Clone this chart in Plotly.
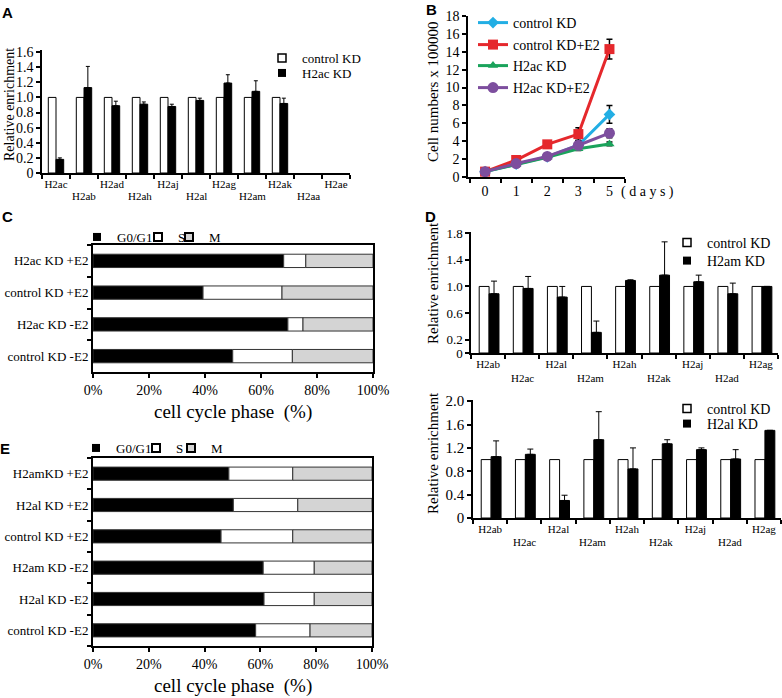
import numpy as np
import plotly.graph_objects as go

W, H = 782, 698
SERIF = "Times New Roman, Liberation Serif, Times, serif"
SANS = "Arial, Liberation Sans, sans-serif"

# ---------------- data ----------------
# Panel A
catsA = ["H2ac", "H2ab", "H2ad", "H2ah", "H2aj", "H2al", "H2ag", "H2am", "H2ak", "H2aa", "H2ae"]
ctrlA = [1.0, 1.0, 1.0, 1.0, 1.0, 1.0, 1.0, 1.0, 1.0, None, None]
kdA = [0.18, 1.13, 0.89, 0.91, 0.88, 0.96, 1.19, 1.08, 0.92, None, None]
errA = [0.02, 0.28, 0.06, 0.03, 0.03, 0.03, 0.11, 0.14, 0.07, None, None]
yticksA = [0, 0.2, 0.4, 0.6, 0.8, 1.0, 1.2, 1.4, 1.6]

# Panel B
daysB = ["0", "1", "2", "3", "5"]
ctrlB = [0.6, 1.45, 2.25, 3.55, 7.0]
ctrlE2B = [0.6, 1.9, 3.65, 4.8, 14.3]
kdB = [0.6, 1.4, 2.2, 3.15, 3.7]
kdE2B = [0.6, 1.5, 2.3, 3.55, 4.9]
errCtrlB = [None, None, None, 0.5, 1.0]
errCtrlE2B = [None, None, 0.3, 0.7, 1.1]
errKdB = [None, None, None, 0.2, 0.2]
errKdE2B = [None, None, None, None, 0.5]

# Panel C (top to bottom)
catsC = ["H2ac KD +E2", "control KD +E2", "H2ac KD -E2", "control KD -E2"]
g0C = [68.1, 39.3, 69.6, 49.9]
sC = [7.9, 28.2, 5.4, 21.3]
mC = [24.0, 32.5, 25.0, 28.8]
pctTicks = [0, 20, 40, 60, 80, 100]

# Panel D
catsD = ["H2ab", "H2ac", "H2al", "H2am", "H2ah", "H2ak", "H2aj", "H2ad", "H2ag"]
ctrlD = [1.0] * 9
kdD1 = [0.89, 0.97, 0.84, 0.31, 1.09, 1.17, 1.07, 0.89, 1.00]
errD1 = [0.19, 0.18, 0.16, 0.17, 0.01, 0.50, 0.10, 0.16, None]
kdD2 = [1.05, 1.09, 0.30, 1.34, 0.84, 1.27, 1.17, 1.01, 1.50]
errD2 = [0.27, 0.09, 0.09, 0.48, 0.36, 0.07, 0.03, 0.16, None]
yticksD1 = [0, 0.2, 0.6, 1.0, 1.4, 1.8]
yticksD2 = [0, 0.4, 0.8, 1.2, 1.6, 2.0]

# Panel E (top to bottom)
catsE = ["H2amKD +E2", "H2al KD +E2", "control KD +E2", "H2am KD -E2", "H2al KD -E2", "control KD -E2"]
g0E = [48.7, 50.3, 45.9, 61.0, 61.3, 58.3]
sE = [22.9, 23.1, 25.7, 18.3, 18.0, 19.5]
mE = [28.4, 26.6, 28.4, 20.7, 20.7, 22.2]

# ---------------- helpers ----------------
def px_x(p):
    return p / W

def px_y(p):
    return 1 - p / H

def row1(labels):
    return [l if i % 2 == 0 else "" for i, l in enumerate(labels)]

def fmt(v):
    return "0" if v == 0 else f"{v:.1f}"

fig = go.Figure()
legends = {}
leg_count = [0]
ann = []

def new_legend(x_text, y_center, size):
    leg_count[0] += 1
    key = "legend" if leg_count[0] == 1 else "legend%d" % leg_count[0]
    legends[key] = dict(x=px_x(x_text - 41), y=px_y(y_center), xanchor="left", yanchor="middle",
                        bgcolor="rgba(0,0,0,0)", borderwidth=0, font=dict(size=size, family=SERIF),
                        itemwidth=30)
    return key

def legend_square(xa, ya, name, fill, line_w, x_text, y_center, size):
    key = new_legend(x_text, y_center, size)
    fig.add_trace(go.Scatter(x=[None], y=[None], xaxis=xa, yaxis=ya, mode="markers", name=name,
                             marker=dict(symbol="square", size=8, color=fill,
                                         line=dict(color="black", width=line_w)), legend=key))

def row2_labels(cats, xref, y_px, size=11):
    for i, c in enumerate(cats):
        if i % 2 == 1:
            ann.append(dict(x=c, xref=xref, y=px_y(y_px), yref="paper", text=c, showarrow=False,
                            xanchor="center", yanchor="middle",
                            font=dict(size=size, family=SERIF, color="black")))

# ---------------- Panel A ----------------
bw = 0.275
fig.add_trace(go.Bar(x=catsA, y=ctrlA, xaxis="x", yaxis="y", width=bw, offset=-bw,
                     marker=dict(color="white", line=dict(color="black", width=1)), showlegend=False))
fig.add_trace(go.Bar(x=catsA, y=kdA, xaxis="x", yaxis="y", width=bw, offset=0,
                     marker=dict(color="black", line=dict(color="black", width=1)), showlegend=False,
                     error_y=dict(type="data", symmetric=False, array=errA, arrayminus=[0] * len(errA),
                                  color="black", thickness=1, width=2)))
legend_square("x", "y", "control KD", "white", 1.5, 303, 58, 13)
legend_square("x", "y", "H2ac KD", "black", 0, 303, 73, 13)
row2_labels(catsA, "x", 196)

# ---------------- Panel B ----------------
colsB = ["#22AEE4", "#E5282C", "#1AA35B", "#7D4E9E"]
namesB = ["control KD", "control KD+E2", "H2ac KD", "H2ac KD+E2"]
valsB = [ctrlB, ctrlE2B, kdB, kdE2B]
errsB = [errCtrlB, errCtrlE2B, errKdB, errKdE2B]
symB = ["diamond", "square", "triangle-up", "circle"]
sizeB = [9, 10, 9, 11]
rowsB = [23, 45, 66, 88]
for nm, v, e, c, s, sz, ry in zip(namesB, valsB, errsB, colsB, symB, sizeB, rowsB):
    key = new_legend(514, ry, 14)
    fig.add_trace(go.Scatter(x=daysB, y=v, xaxis="x2", yaxis="y2", mode="lines+markers", name=nm,
                             line=dict(color=c, width=3), marker=dict(symbol=s, size=sz, color=c),
                             error_y=dict(type="data", array=e, color="black", thickness=1.5, width=3),
                             legend=key))

# ---------------- Panel C / E (stacked horizontal) ----------------
def stacked(cats, g0, s, m, xa, ya, ytxt, xtxts):
    g0 = np.array(g0); s = np.array(s); m = np.array(m)
    specs = [(g0, np.zeros_like(g0), "black"),
             (s, g0, "white"),
             (m, g0 + s, "#D4D4D4")]
    for vals, base, col in specs:
        fig.add_trace(go.Bar(y=cats, x=vals, base=base, orientation="h", xaxis=xa, yaxis=ya,
                             width=0.42, offset=-0.21,
                             marker=dict(color=col, line=dict(color="#333333", width=1)), showlegend=False))
    for (col, nm, lw), xt in zip([("black", "G0/G1", 0), ("white", "S", 2), ("#D4D4D4", "M", 2)], xtxts):
        legend_square(xa, ya, nm, col, lw, xt, ytxt, 13)

stacked(catsC, g0C, sC, mC, "x3", "y3", 237, [118, 179, 210])
stacked(catsE, g0E, sE, mE, "x6", "y6", 448, [117, 177, 212])

# ---------------- Panel D ----------------
for kd, err, xa, ya, nm, rows, r2 in [(kdD1, errD1, "x4", "y4", "H2am KD", [243, 261], 378),
                                      (kdD2, errD2, "x5", "y5", "H2al KD", [409, 424], 542)]:
    bwd = 0.29
    fig.add_trace(go.Bar(x=catsD, y=ctrlD, xaxis=xa, yaxis=ya, width=bwd, offset=-bwd + 0.03,
                         marker=dict(color="white", line=dict(color="black", width=1)), showlegend=False))
    fig.add_trace(go.Bar(x=catsD, y=kd, xaxis=xa, yaxis=ya, width=bwd, offset=0.03,
                         marker=dict(color="black", line=dict(color="black", width=1)), showlegend=False,
                         error_y=dict(type="data", symmetric=False, array=err, arrayminus=[0] * len(err),
                                      color="black", thickness=1, width=3)))
    legend_square(xa, ya, "control KD", "white", 1.5, 708, rows[0], 14)
    legend_square(xa, ya, nm, "black", 0, 708, rows[1], 14)
    row2_labels(catsD, xa, r2)

# ---------------- axes ----------------
axbase = dict(showgrid=False, zeroline=False, showline=True, linecolor="black", linewidth=1.5,
              ticks="outside", tickcolor="black", ticklen=4, tickwidth=1.5)
pctText = ["%d%%" % v for v in pctTicks]

layout = dict(
    width=W, height=H, margin=dict(l=0, r=0, t=0, b=0, pad=0, autoexpand=False),
    paper_bgcolor="white", plot_bgcolor="white",
    font=dict(family=SERIF, color="black", size=13),
    barmode="group",
    # A
    xaxis=dict(axbase, domain=[px_x(42), px_x(350)], anchor="y", type="category",
               categoryorder="array", categoryarray=catsA, range=[-0.5, len(catsA) - 0.5],
               tickson="boundaries", tickmode="array", tickvals=catsA, ticktext=row1(catsA),
               tickangle=0, tickfont=dict(size=11)),
    yaxis=dict(axbase, domain=[px_y(173), px_y(50)], anchor="x", range=[0, 1.6 * 1.017],
               tickvals=yticksA, ticktext=[fmt(v) for v in yticksA], tickfont=dict(size=14)),
    # B
    xaxis2=dict(axbase, domain=[px_x(468), px_x(625)], anchor="y2", type="category",
                range=[-0.55, 4.5], tickson="boundaries", tickangle=0, tickfont=dict(size=14)),
    yaxis2=dict(axbase, domain=[px_y(177), px_y(16)], anchor="x2", range=[0, 18],
                tickvals=list(range(0, 19, 2)), tickfont=dict(size=14)),
    # C
    xaxis3=dict(axbase, domain=[px_x(93), px_x(373)], anchor="y3", range=[0, 100], linewidth=2,
                mirror=True, tickmode="array", tickvals=pctTicks, ticktext=pctText, tickfont=dict(size=14)),
    yaxis3=dict(axbase, domain=[px_y(372), px_y(245)], anchor="x3", type="category", linewidth=2,
                mirror=True, categoryorder="array", categoryarray=catsC[::-1],
                range=[-0.5, len(catsC) - 0.5], tickson="boundaries", tickfont=dict(size=13)),
    # D top
    xaxis4=dict(axbase, domain=[px_x(471), px_x(778)], anchor="y4", type="category",
                categoryorder="array", categoryarray=catsD, range=[-0.5, len(catsD) - 0.5],
                tickson="boundaries", tickmode="array", tickvals=catsD, ticktext=row1(catsD),
                tickangle=0, tickfont=dict(size=11)),
    yaxis4=dict(axbase, domain=[px_y(353), px_y(232)], anchor="x4", range=[0, 1.8 * 1.01],
                tickvals=yticksD1, ticktext=[fmt(v) for v in yticksD1], tickfont=dict(size=13)),
    # D bottom
    xaxis5=dict(axbase, domain=[px_x(473), px_x(781)], anchor="y5", type="category",
                categoryorder="array", categoryarray=catsD, range=[-0.5, len(catsD) - 0.5],
                tickson="boundaries", tickmode="array", tickvals=catsD, ticktext=row1(catsD),
                tickangle=0, tickfont=dict(size=11)),
    yaxis5=dict(axbase, domain=[px_y(518), px_y(400)], anchor="x5", range=[0, 2.0 * 1.01],
                tickvals=yticksD2, ticktext=[fmt(v) for v in yticksD2], tickfont=dict(size=15)),
    # E
    xaxis6=dict(axbase, domain=[px_x(93), px_x(372)], anchor="y6", range=[0, 100], linewidth=2,
                mirror=True, tickmode="array", tickvals=pctTicks, ticktext=pctText, tickfont=dict(size=14)),
    yaxis6=dict(axbase, domain=[px_y(646), px_y(458)], anchor="x6", type="category", linewidth=2,
                mirror=True, categoryorder="array", categoryarray=catsE[::-1],
                range=[-0.5, len(catsE) - 0.5], tickson="boundaries", tickfont=dict(size=13)),
)
layout.update(legends)
fig.update_layout(**layout)

# ---------------- text annotations ----------------
def txt(x, y, t, size=14, angle=0, bold=False, family=SERIF):
    ann.append(dict(x=px_x(x), y=px_y(y), xref="paper", yref="paper", text=("<b>%s</b>" % t) if bold else t,
                    showarrow=False, textangle=angle, xanchor="center", yanchor="middle",
                    font=dict(size=size, family=family, color="black")))

txt(9, 105, "Relative enrichment", 14, -90)
txt(433, 92, "Cell numbers x 100000", 15, -90)
txt(433, 283, "Relative enrichment", 15, -90)
txt(433, 453, "Relative enrichment", 15, -90)
txt(647, 192, "( d a y s )", 14)
txt(233, 412, "cell cycle phase\u00a0\u00a0(%)", 19)
txt(233, 686, "cell cycle phase\u00a0\u00a0(%)", 19)
for lab, x, y in [("A", 7, 13), ("B", 432, 10), ("C", 7, 217), ("D", 430, 217), ("E", 5, 448)]:
    txt(x, y, lab, 15, bold=True, family=SANS)
fig.update_layout(annotations=ann)

fig.write_html("out.html", config={"displayModeBar": False},
               post_script="document.body.style.margin='0';document.body.style.overflow='hidden';")
